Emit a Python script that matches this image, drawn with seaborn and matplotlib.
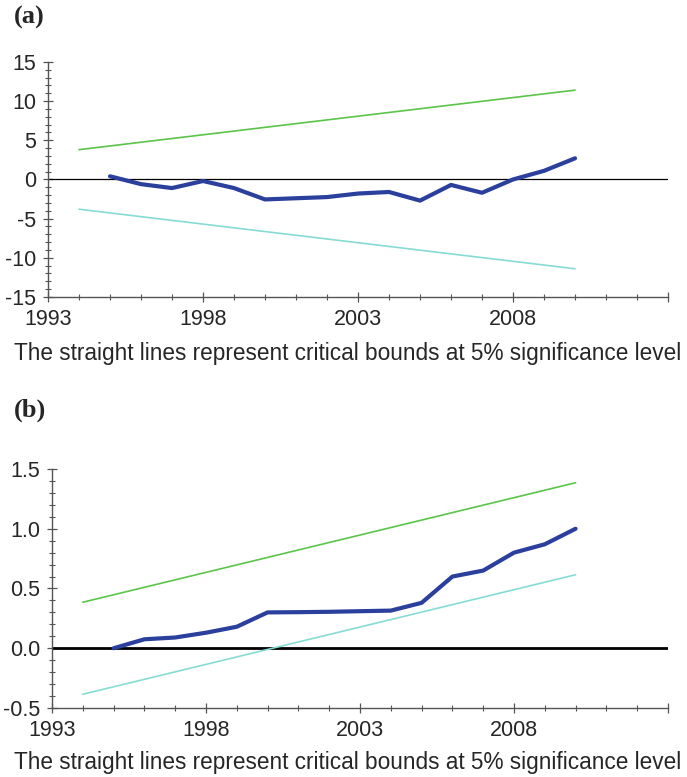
import numpy as np
import pandas as pd
import matplotlib
matplotlib.use("Agg")
import matplotlib.pyplot as plt
from matplotlib.ticker import MultipleLocator, FormatStrFormatter
import seaborn as sns

# CUSUM and CUSUM of squares
years = list(range(1995, 2011))
cusum = [0.4, -0.6, -1.1, -0.2, -1.1, -2.55, -2.4, -2.25, -1.8, -1.6,
         -2.7, -0.7, -1.7, 0.0, 1.1, 2.7]
cusumsq = [0.0, 0.075, 0.09, 0.13, 0.18, 0.30, 0.302, 0.305, 0.31, 0.315,
           0.38, 0.60, 0.65, 0.80, 0.87, 1.0]

# critical bounds (straight lines from 1994 to 2010)
bound_years = [1994, 2010]
cusum_upper = [3.8, 11.4]
cusum_lower = [-3.8, -11.4]
sq_upper = [0.385, 1.385]
sq_lower = [-0.385, 0.615]

caption = "The straight lines represent critical bounds at 5% significance level"

sns.set_style("ticks")
plt.rcParams['font.family'] = ['Liberation Sans', 'DejaVu Sans']
plt.rcParams['axes.unicode_minus'] = False

blue = "#2b3f9c"
green = "#5bc54a"
cyan = "#86dcd4"
spine_col = "#555555"

fig = plt.figure(figsize=(6.87, 7.77), dpi=100)
ax_a = fig.add_axes([0.0699, 0.6178, 0.9025, 0.3025])
ax_b = fig.add_axes([0.0757, 0.0888, 0.8966, 0.3076])


def style_axis(ax, ylim, ymajor, yminor, fmt, zero_lw):
    ax.axhline(0, color="black", lw=zero_lw, zorder=1)
    ax.set_xlim(1993, 2013)
    ax.set_ylim(*ylim)
    ax.xaxis.set_major_locator(MultipleLocator(5))
    ax.xaxis.set_minor_locator(MultipleLocator(1))
    ax.yaxis.set_major_locator(MultipleLocator(ymajor))
    ax.yaxis.set_minor_locator(MultipleLocator(yminor))
    ax.yaxis.set_major_formatter(FormatStrFormatter(fmt))
    ax.set_xticks([1993, 1998, 2003, 2008, 2013])
    ax.set_xticklabels(["1993", "1998", "2003", "2008", ""])
    for s in ["top", "right"]:
        ax.spines[s].set_visible(False)
    for s in ["left", "bottom"]:
        ax.spines[s].set_color(spine_col)
        ax.spines[s].set_linewidth(1.0)
    ax.tick_params(which="major", direction="inout", length=7, width=0.9,
                   color=spine_col, labelsize=15.5, pad=5)
    ax.tick_params(which="minor", direction="inout", length=4, width=0.8,
                   color=spine_col)
    ax.tick_params(axis="y", which="major", pad=5)
    ax.set_xlabel("")
    ax.set_ylabel("")
    if ax.get_legend() is not None:
        ax.get_legend().remove()


# panel (a): CUSUM
sns.lineplot(x=bound_years, y=cusum_upper, ax=ax_a, color=green, lw=1.2)
sns.lineplot(x=bound_years, y=cusum_lower, ax=ax_a, color=cyan, lw=1.2)
sns.lineplot(x=years, y=cusum, ax=ax_a, color=blue, lw=3.0)
style_axis(ax_a, (-15, 15), 5, 1, "%d", 0.9)

# panel (b): CUSUM of squares
sns.lineplot(x=bound_years, y=sq_upper, ax=ax_b, color=green, lw=1.2)
sns.lineplot(x=bound_years, y=sq_lower, ax=ax_b, color=cyan, lw=1.2)
sns.lineplot(x=years, y=cusumsq, ax=ax_b, color=blue, lw=3.0)
style_axis(ax_b, (-0.5, 1.5), 0.5, 0.1, "%.1f", 2.0)

# panel letters and captions
fig.text(0.020, 0.978, "(a)", family="Liberation Serif", weight="bold",
         fontsize=19, va="center", ha="left")
fig.text(0.020, 0.472, "(b)", family="Liberation Serif", weight="bold",
         fontsize=19, va="center", ha="left")
fig.text(0.021, 0.545, caption, fontsize=16.3, va="center", ha="left")
fig.text(0.021, 0.019, caption, fontsize=16.3, va="center", ha="left")

fig.savefig("out.png", dpi=100)
